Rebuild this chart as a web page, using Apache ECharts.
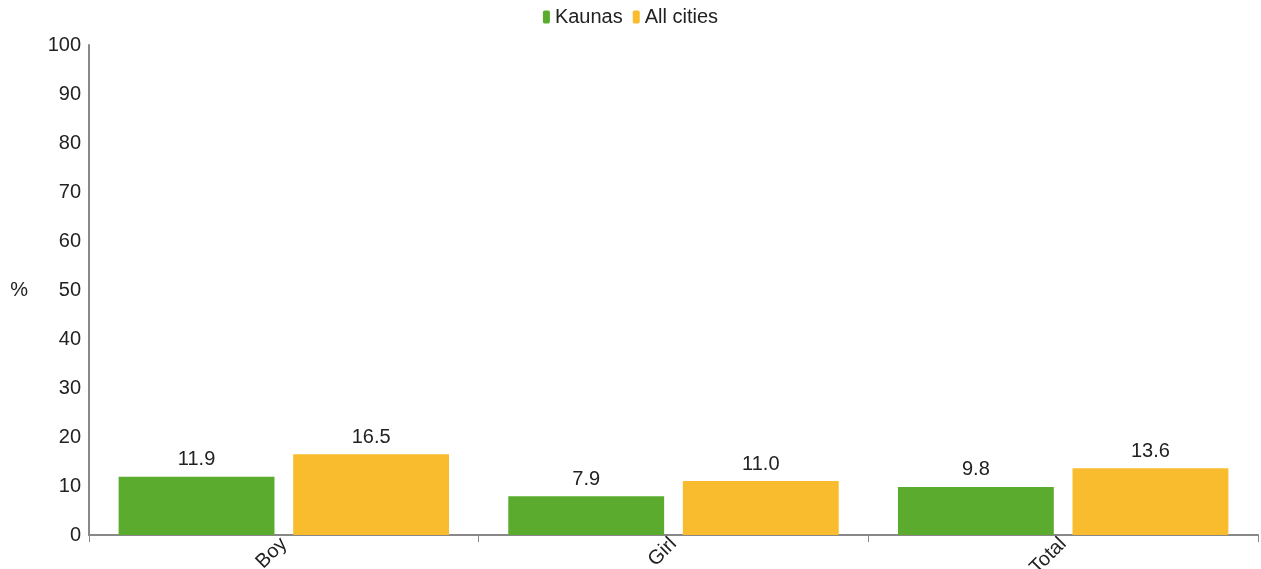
<!DOCTYPE html>
<html><head><meta charset="utf-8">
<script src="https://cdn.jsdelivr.net/npm/echarts@6/dist/echarts.min.js"></script>
<style>html,body{margin:0;padding:0;background:#fff}#c{width:1261px;height:569px}</style>
</head><body><div id="c"></div>
<script>
const categories = ['Boy', 'Girl', 'Total'];
const seriesNames = ['Kaunas', 'All cities'];
const kaunas = [11.9, 7.9, 9.8];
const allCities = [16.5, 11.0, 13.6];
const yTicks = [0, 10, 20, 30, 40, 50, 60, 70, 80, 90, 100];

const font = 'Liberation Sans, Arial, sans-serif';
const chart = echarts.init(document.getElementById('c'));
const labelCfg = {show: true, position: 'top', distance: 7, fontSize: 20, color: '#222', fontFamily: font, formatter: p => p.value.toFixed(1)};
chart.setOption({
  animation: false,
  legend: {top: 2, left: 'center', itemWidth: 7, itemHeight: 13, itemGap: 10,
    textStyle: {fontSize: 20, color: '#222', fontFamily: font}, data: seriesNames},
  grid: {left: 89, right: 3, top: 45, bottom: 34, containLabel: false, outerBoundsMode: 'none'},
  xAxis: {type: 'category', data: categories,
    axisLine: {lineStyle: {color: '#888', width: 2}},
    axisTick: {show: true, length: 7, lineStyle: {color: '#888'}},
    axisLabel: {rotate: 45, fontSize: 20, color: '#222', fontFamily: font, margin: 6}},
  yAxis: {type: 'value', min: yTicks[0], max: yTicks[yTicks.length-1], interval: 10,
    name: '%', nameLocation: 'middle', nameRotate: 0, nameGap: 61,
    nameTextStyle: {fontSize: 20, color: '#222', fontFamily: font},
    axisLine: {show: true, lineStyle: {color: '#888', width: 2}},
    axisTick: {show: false}, splitLine: {show: false},
    axisLabel: {fontSize: 20, color: '#222', fontFamily: font, margin: 8}},
  series: [
    {name: seriesNames[0], type: 'bar', data: kaunas, barWidth: '40%', barGap: '12%',
      itemStyle: {color: '#5aab2e'}, label: labelCfg},
    {name: seriesNames[1], type: 'bar', data: allCities, barWidth: '40%',
      itemStyle: {color: '#f9bc2f'}, label: labelCfg}
  ]
});
</script></body></html>
